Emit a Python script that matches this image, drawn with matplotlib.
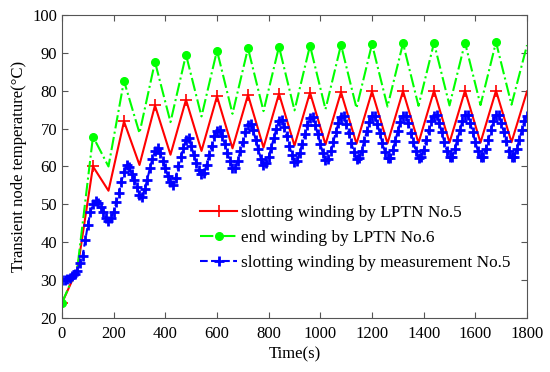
import numpy as np
import matplotlib.pyplot as plt

# --- dati ---
# LPTN: un punto ogni 60 s
t_lptn = np.arange(0, 1801, 60)
slot_lptn = [24.0, 33.0, 60.0, 53.6, 71.9, 60.4, 76.1, 63.1, 77.6, 64.1,
             78.5, 64.8, 78.9, 65.0, 79.2, 65.5, 79.5, 65.8, 79.6, 66.0,
             79.8, 66.1, 79.9, 66.2, 80.0, 66.3, 80.0, 66.3, 80.0, 66.4, 79.8]
end_lptn = [24.0, 33.5, 67.9, 60.0, 82.6, 68.8, 87.6, 71.7, 89.5, 73.2,
            90.6, 73.9, 91.2, 74.6, 91.6, 74.8, 91.9, 75.1, 92.1, 75.4,
            92.3, 75.8, 92.5, 76.0, 92.6, 76.1, 92.7, 76.2, 92.8, 76.3, 92.0]

# misura: un punto ogni 10 s
t_meas = np.arange(0, 1801, 10)
slot_meas = [
    30.0, 30.0, 30.3, 30.5, 31.0, 31.5, 32.5, 34.5, 36.5, 40.5, 44.5, 48.0,
    50.0, 51.0, 50.3, 49.3, 48.0, 46.5, 45.7, 46.5, 48.0, 50.5, 53.0, 56.0,
    58.5, 60.3, 59.8, 58.0, 56.5, 54.5, 52.5, 52.0, 54.0, 56.5, 59.5, 62.0,
    64.0, 65.0, 63.5, 61.5, 59.5, 57.5, 56.0, 55.0, 57.0, 60.0, 62.5, 65.0,
    67.0, 67.5, 65.5, 63.0, 61.0, 59.0, 58.0, 58.3, 60.5, 63.0, 65.5, 68.0,
    69.3, 69.5, 68.0, 66.0, 63.5, 61.5, 59.5, 59.5, 61.5, 64.0, 66.5, 69.0,
    71.0, 71.3, 69.5, 67.0, 64.5, 62.0, 60.5, 60.8, 62.5, 65.0, 67.5, 70.0,
    72.0, 72.3, 70.5, 68.0, 65.5, 63.0, 61.3, 61.5, 63.5, 66.0, 68.5, 71.0,
    72.8, 73.0, 71.0, 68.5, 66.0, 63.5, 61.8, 62.0, 64.0, 66.5, 69.0, 71.5,
    73.0, 73.2, 71.2, 68.8, 66.2, 63.8, 62.0, 62.2, 64.2, 66.8, 69.3, 71.7,
    73.2, 73.3, 71.3, 68.8, 66.3, 63.8, 62.2, 62.3, 64.3, 66.8, 69.3, 71.8,
    73.3, 73.4, 71.4, 68.9, 66.4, 64.0, 62.3, 62.4, 64.4, 67.0, 69.5, 71.9,
    73.4, 73.5, 71.5, 69.0, 66.5, 64.0, 62.4, 62.5, 64.5, 67.0, 69.5, 72.0,
    73.5, 73.5, 71.5, 69.0, 66.5, 64.0, 62.4, 62.5, 64.5, 67.0, 69.5, 72.0,
    73.5, 73.6, 71.6, 69.1, 66.6, 64.1, 62.5, 62.6, 64.6, 67.1, 69.6, 72.0,
    73.4]

labels = ['slotting winding by LPTN No.5',
          'end winding by LPTN No.6',
          'slotting winding by measurement No.5']

plt.rcParams['font.family'] = 'Liberation Serif'
plt.rcParams['font.size'] = 12

fig = plt.figure(figsize=(5.5, 3.72), dpi=100)
ax = fig.add_axes([0.1127, 0.145, 0.8455, 0.815])

marks = list(range(0, 29, 2))
ax.plot(t_lptn, slot_lptn, '-', color='red', lw=1.5, marker='+', ms=8,
        mew=1.2, markevery=marks, label=labels[0])
ax.plot(t_lptn, end_lptn, '-.', color='#00ff00', lw=1.5, marker='o', ms=5.5,
        markevery=marks, label=labels[1])
ax.plot(t_meas, slot_meas, '--', color='blue', lw=1.5, marker='+', ms=6.5,
        mew=2, label=labels[2])

ax.set_xlim(0, 1800)
ax.set_ylim(20, 100)
ax.set_xticks(np.arange(0, 1801, 200))
ax.set_yticks(np.arange(20, 101, 10))
ax.tick_params(direction='in', top=True, right=True, length=4, width=0.8,
               color='#555555', labelsize=12)
ax.tick_params(axis='x', pad=6)
for s in ax.spines.values():
    s.set_color('#555555')
    s.set_linewidth(0.8)

ax.set_xlabel('Time(s)', fontsize=12, labelpad=3)
ax.set_ylabel('Transient node temperature(\u00b0C)', fontsize=12, labelpad=4)

ax.legend(loc='upper left', bbox_to_anchor=(0.297, 0.372), frameon=False,
          fontsize=12.4, handlelength=2.15, handletextpad=0.2,
          labelspacing=0.5, borderaxespad=0, borderpad=0)

fig.savefig('out.png', dpi=100)
